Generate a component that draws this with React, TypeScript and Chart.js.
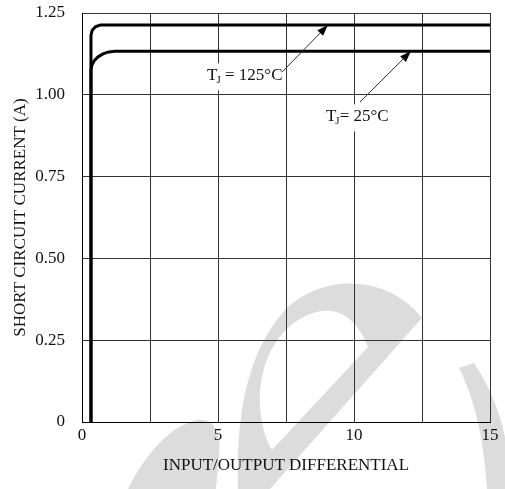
import { useEffect, useRef } from "react";
import { Chart, registerables } from "chart.js";

Chart.register(...registerables);

// ---- data ----
const curve125X = [0.33, 0.33, 0.375, 0.496, 0.662, 15];
const curve125Y = [0, 1.182, 1.197, 1.208, 1.213, 1.213];
const curve25X = [0.33, 0.33, 0.36, 0.448, 0.588, 0.772, 0.985, 1.213, 15];
const curve25Y = [0, 1.075, 1.09, 1.104, 1.116, 1.125, 1.131, 1.133, 1.133];
const seriesNames = ["TJ = 125°C", "TJ = 25°C"];
const yTickLabels = ["0", "0.25", "0.50", "0.75", "1.00", "1.25"];
const xTickLabels = ["0", "", "5", "", "10", "", "15"];
const xTitle = "INPUT/OUTPUT DIFFERENTIAL";
const yTitle = "SHORT CIRCUIT CURRENT (A)";

const FONT = "'Liberation Serif', 'Times New Roman', serif";

const annotations = [
  { rest: " = 125°C", textX: 4.6, textY: 1.044, fromX: 7.35, fromY: 1.069, toX: 9.04, toY: curve125Y[curve125Y.length - 1] },
  { rest: "= 25°C", textX: 8.97, textY: 0.919, fromX: 10.22, fromY: 0.978, toX: 12.09, toY: curve25Y[curve25Y.length - 1] },
];

const watermarkPlugin = {
  id: "watermark",
  beforeDraw(chart: any) {
    const ctx = chart.ctx as CanvasRenderingContext2D;
    ctx.save();
    ctx.fillStyle = "#ffffff";
    ctx.fillRect(0, 0, chart.width, chart.height);
    ctx.fillStyle = "#dcdcdc";
    // main "e" body with hole
    ctx.beginPath();
    ctx.moveTo(238, 489);
    ctx.bezierCurveTo(236, 420, 245, 355, 285, 310);
    ctx.bezierCurveTo(320, 275, 385, 272, 422, 318);
    ctx.lineTo(270, 489);
    ctx.closePath();
    ctx.moveTo(368, 347);
    ctx.lineTo(272, 450);
    ctx.bezierCurveTo(255, 420, 252, 360, 290, 326);
    ctx.bezierCurveTo(315, 305, 350, 300, 368, 347);
    ctx.closePath();
    ctx.fill("evenodd");
    // right arc
    ctx.beginPath();
    ctx.moveTo(459, 368);
    ctx.lineTo(474, 363);
    ctx.bezierCurveTo(495, 395, 508, 430, 512, 489);
    ctx.lineTo(487, 489);
    ctx.bezierCurveTo(484, 440, 475, 400, 459, 368);
    ctx.closePath();
    ctx.fill();
    // lower-left blob
    ctx.beginPath();
    ctx.moveTo(128, 489);
    ctx.bezierCurveTo(145, 455, 170, 425, 198, 420);
    ctx.bezierCurveTo(215, 418, 222, 435, 219, 455);
    ctx.lineTo(216, 489);
    ctx.closePath();
    ctx.fill();
    ctx.restore();
  },
};

const annotationPlugin = {
  id: "tjLabels",
  afterDatasetsDraw(chart: any) {
    const ctx = chart.ctx as CanvasRenderingContext2D;
    const { x, y } = chart.scales;
    ctx.save();
    for (const a of annotations) {
      const tx = x.getPixelForValue(a.textX);
      const ty = y.getPixelForValue(a.textY);
      ctx.font = `17px ${FONT}`;
      const wT = ctx.measureText("T").width;
      const wR = ctx.measureText(a.rest).width;
      ctx.font = `11px ${FONT}`;
      const wJ = ctx.measureText("J").width;
      const total = wT - 1 + wJ + wR;
      ctx.fillStyle = "#ffffff";
      ctx.fillRect(tx - 3, ty - 17, total + 6, 27);

      // arrow
      const fx = x.getPixelForValue(a.fromX);
      const fy = y.getPixelForValue(a.fromY);
      const px = x.getPixelForValue(a.toX);
      const py = y.getPixelForValue(a.toY);
      const ang = Math.atan2(py - fy, px - fx);
      const hl = 11;
      const hw = 4;
      const bx = px - hl * Math.cos(ang);
      const by = py - hl * Math.sin(ang);
      ctx.strokeStyle = "#333";
      ctx.lineWidth = 1;
      ctx.beginPath();
      ctx.moveTo(fx, fy);
      ctx.lineTo(bx, by);
      ctx.stroke();
      ctx.fillStyle = "#000";
      ctx.beginPath();
      ctx.moveTo(px, py);
      ctx.lineTo(bx + hw * Math.sin(ang), by - hw * Math.cos(ang));
      ctx.lineTo(bx - hw * Math.sin(ang), by + hw * Math.cos(ang));
      ctx.closePath();
      ctx.fill();

      // text
      ctx.fillStyle = "#111";
      ctx.textAlign = "left";
      ctx.textBaseline = "alphabetic";
      ctx.font = `17px ${FONT}`;
      ctx.fillText("T", tx, ty);
      ctx.font = `11px ${FONT}`;
      ctx.fillText("J", tx + wT - 1, ty + 3);
      ctx.font = `17px ${FONT}`;
      ctx.fillText(a.rest, tx + wT - 1 + wJ, ty);
    }
    ctx.restore();
  },
};

export default function App() {
  const canvasRef = useRef<HTMLCanvasElement | null>(null);

  useEffect(() => {
    if (!canvasRef.current) return;
    const chart = new Chart(canvasRef.current, {
      type: "line",
      data: {
        datasets: [
          {
            label: seriesNames[0],
            data: curve125X.map((v, i) => ({ x: v, y: curve125Y[i] })),
            borderColor: "#000",
            borderWidth: 3,
            pointRadius: 0,
            tension: 0,
            borderJoinStyle: "round",
            fill: false,
          },
          {
            label: seriesNames[1],
            data: curve25X.map((v, i) => ({ x: v, y: curve25Y[i] })),
            borderColor: "#000",
            borderWidth: 3,
            pointRadius: 0,
            tension: 0,
            borderJoinStyle: "round",
            fill: false,
          },
        ],
      },
      options: {
        animation: false,
        responsive: false,
        layout: { padding: { left: 0, right: 15, top: 13, bottom: 0 } },
        plugins: { legend: { display: false }, tooltip: { enabled: false } },
        scales: {
          x: {
            type: "linear",
            min: 0,
            max: 15,
            afterFit: (s: any) => {
              s.height = 67;
              s.paddingLeft = 0;
              s.paddingRight = 0;
            },
            ticks: {
              stepSize: 2.5,
              autoSkip: false,
              maxRotation: 0,
              padding: 3,
              color: "#111",
              font: { family: FONT, size: 17 },
              callback: (_v: any, i: number) => xTickLabels[i] ?? "",
            },
            grid: { color: "#333", lineWidth: 1, drawTicks: false },
            border: { display: true, color: "#000", width: 1 },
            title: {
              display: true,
              text: xTitle,
              color: "#111",
              font: { family: FONT, size: 17 },
              padding: { top: 0, bottom: 13 },
            },
          },
          y: {
            type: "linear",
            min: 0,
            max: 1.25,
            afterFit: (s: any) => {
              s.width = 82;
              s.paddingTop = 0;
              s.paddingBottom = 0;
            },
            ticks: {
              stepSize: 0.25,
              autoSkip: false,
              padding: 17,
              color: "#111",
              font: { family: FONT, size: 17 },
              callback: (_v: any, i: number) => yTickLabels[i] ?? "",
            },
            grid: { color: "#333", lineWidth: 1, drawTicks: false },
            border: { display: true, color: "#000", width: 1 },
            title: {
              display: true,
              text: yTitle,
              color: "#111",
              font: { family: FONT, size: 17 },
              padding: { top: 10, bottom: 0 },
            },
          },
        },
      } as any,
      plugins: [watermarkPlugin, annotationPlugin],
    });
    return () => chart.destroy();
  }, []);

  return (
    <div style={{ position: "fixed", left: 0, top: 0, width: 505, height: 489 }}>
      <canvas ref={canvasRef} width={505} height={489} style={{ width: 505, height: 489 }} />
    </div>
  );
}
